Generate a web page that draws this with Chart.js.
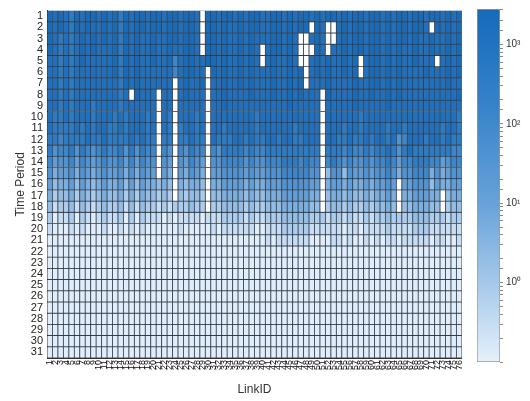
<!DOCTYPE html>
<html>
<head>
<meta charset="utf-8">
<script src="https://cdn.jsdelivr.net/npm/chart.js@4.4.1/dist/chart.umd.min.js"></script>
<style>
  html, body { margin: 0; padding: 0; background: #ffffff; }
  #wrap { position: relative; width: 530px; height: 401px; overflow: hidden; }
  #heat { position: absolute; left: 0; top: 0; }
  #cbar { position: absolute; left: 470px; top: 0; }
</style>
</head>
<body>
<div id="wrap">
  <canvas id="heat" width="472" height="401"></canvas>
  <canvas id="cbar" width="60" height="401"></canvas>
</div>
<script>
// Link identifiers (columns) and time periods (rows)
const linkIds = Array.from({ length: 76 }, (_, i) => String(i + 1));
const periods = Array.from({ length: 31 }, (_, i) => i + 1);

// Flow level codes: each character is one link in one period ('.' = no data)
const levelCodes  = "0123456789a";
const levelValues = [0.12, 0.3, 0.8, 2, 5, 15, 40, 120, 400, 1200, 2500];

const rowCodes = [
  "a9a98a9aa9 a9a8a9aa9a a9aa9aa9.a a9aa9a9aa9 9aa9a9aa9a 9aa9a9aa9a a9a9aa9aa9 aa9a9a",
  "a9a98a9a99 a9a8a9aa9a a9aa9aa9.a a9a99a9aa9 9aa9a9aa.a 9..9a9aa9a a9a9aa9aa9 .a9a9a",
  "a98989a9a9 a9a8a9a99a 99aa9aa9.a a9a99a9a99 9aa9a9..9a 9..9a9aa9a a9a9aa9a99 a99a9a",
  "a98989a9a9 99a8a9a99a 99a99aa9.a a9a99a9a9. 9aa9a9...a 9.99a9aa9a a9a9a99a99 a99a9a",
  "998989a999 99a8a9a99a 99a79aa99a a9a99a9a9. 9a99a9..9a 9a99a9a.9a a9a9a99a99 9.9a9a",
  "9989899999 99a8a9a999 99979aa99. a9a99a9a99 9a99a9a.9a 9a99a9a.9a a9a9a9999a 999a9a",
  "9989899999 9998a9a999 999.9a99a. 99a99a9a99 9a99a9a.99 9a9999a99a a9a9a99999 999a99",
  "9989899999 99989.a999 .99.9a999. 99a9999a99 9a99a9a999 .a9999a99a 99a9a99999 99999a",
  "9989899989 9998999999 .99.99999. 99a9999999 9999a99999 .99999a999 99a9999999 999999",
  "9889899989 9989899989 .98.99989. 9999999989 9999999999 .999999899 9999999999 999998",
  "9888898989 9889899989 .98.89989. 9989999989 9999989999 .999899899 9989989999 998998",
  "8878888988 9888898988 .88.88988. 9888998988 9989988999 .998898898 9989679998 998988",
  "8677868767 8778686877 .76.76877. 7688887877 8888888888 .888787787 8898689888 888877",
  "7566757656 7667575766 .65.65765. 6677776766 7778887877 .787676676 7787577888 775677",
  "6455646545 6556464655 .54.54654. 5566665655 6667777766 .366365565 6676466777 464566",
  "5344535434 5445353544 343.43443. 4455554544 5556666655 .455454454 5565.55666 354455",
  "4233424323 4334242433 232.32332. 3344443433 4445555544 .344343343 4454.44555 44.344",
  "3122313212 3223131322 121222322. 2233332322 3334444433 .233232232 3343.33444 33.233",
  "2011202101 2112020211 1010111101 1122221211 2223333322 2122121121 2232222333 222122",
  "1000101000 1001010100 0000100000 1011111100 1112222211 1111011011 1121111222 111111",
  "0000000000 0000000000 0000000000 0000000000 1011111100 0011010010 1011011111 011001",
  "0000000000 0000000000 0000000000 0000000000 0000000000 0000000000 0000000000 000000",
  "0000000000 0000000000 0000000000 0000000000 0000000000 0000000000 0000000000 000000",
  "0000000000 0000000000 0000000000 0000000000 0000000000 0000000000 0000000000 000000",
  "0000000000 0000000000 0000000000 0000000000 0000000000 0000000000 0000000000 000000",
  "0000000000 0000000000 0000000000 0000000000 0000000000 0000000000 0000000000 000000",
  "0000000000 0000000000 0000000000 0000000000 0000000000 0000000000 0000000000 000000",
  "0000000000 0000000000 0000000000 0000000000 0000000000 0000000000 0000000000 000000",
  "0000000000 0000000000 0000000000 0000000000 0000000000 0000000000 0000000000 000000",
  "0000000000 0000000000 0000000000 0000000000 0000000000 0000000000 0000000000 000000",
  "0000000000 0000000000 0000000000 0000000000 0000000000 0000000000 0000000000 000000"
];

// Colour bar range and tick labels
const cMin = 0.1, cMax = 2800;
const cbarTicks = [1, 10, 100, 1000];
const cbarLabels = ["10\u2070", "10\u00B9", "10\u00B2", "10\u00B3"];

const periodValues = rowCodes.map(s =>
  s.replace(/ /g, "").split("").map(ch => ch === "." ? null : levelValues[levelCodes.indexOf(ch)])
);

// Colour map (position along log range -> rgb)
const cmapStops = [
  [0.00, [229, 240, 251]],
  [0.20, [172, 205, 236]],
  [0.45, [104, 162, 218]],
  [0.75, [50, 128, 200]],
  [1.00, [22, 106, 186]]
];
function logPos(v) {
  const t = (Math.log10(v) - Math.log10(cMin)) / (Math.log10(cMax) - Math.log10(cMin));
  return Math.min(1, Math.max(0, t));
}
function cmap(t) {
  for (let i = 1; i < cmapStops.length; i++) {
    const [t1, c1] = cmapStops[i];
    const [t0, c0] = cmapStops[i - 1];
    if (t <= t1) {
      const f = (t - t0) / (t1 - t0);
      const c = c0.map((a, k) => Math.round(a + (c1[k] - a) * f));
      return `rgb(${c[0]},${c[1]},${c[2]})`;
    }
  }
  const c = cmapStops[cmapStops.length - 1][1];
  return `rgb(${c[0]},${c[1]},${c[2]})`;
}
const colorFor = v => v == null ? "#ffffff" : cmap(logPos(v));

const narrow = "'Liberation Sans Narrow', 'Liberation Sans', Arial, sans-serif";
const sans = "'Liberation Sans', Arial, sans-serif";

// Heat map: one floating bar per cell, one dataset per period
const datasets = periods.map((p, r) => {
  const vals = periodValues[r];
  return {
    label: "Period " + p,
    data: linkIds.map((id, c) => ({ x: id, y: [p - 0.5, p + 0.5], v: vals[c] })),
    backgroundColor: vals.map(colorFor),
    borderColor: "rgba(35,45,58,0.85)",
    borderWidth: 0.8,
    borderSkipped: false,
    grouped: false,
    barPercentage: 1,
    categoryPercentage: 1
  };
});

new Chart(document.getElementById("heat"), {
  type: "bar",
  data: { labels: linkIds, datasets },
  options: {
    responsive: false,
    animation: false,
    events: [],
    layout: { padding: { top: 6, right: 7, left: 0, bottom: 0 } },
    plugins: { legend: { display: false }, tooltip: { enabled: false } },
    scales: {
      x: {
        type: "category",
        offset: true,
        grid: { display: false, drawTicks: false },
        border: { display: true, color: "#333" },
        ticks: {
          autoSkip: false, minRotation: 90, maxRotation: 90, padding: 2,
          font: { family: narrow, size: 9 }, color: "#111"
        },
        title: {
          display: true, text: "LinkID", color: "#333",
          font: { family: sans, size: 12 }, padding: { top: 2, bottom: 4 }
        },
        afterFit: s => { s.height = 43; }
      },
      y: {
        type: "linear",
        min: 0.5, max: 31.5, reverse: true,
        afterBuildTicks: s => { s.ticks = periods.map(p => ({ value: p })); },
        grid: { display: false, drawTicks: false },
        border: { display: true, color: "#333" },
        ticks: {
          autoSkip: false, padding: 4,
          font: { family: narrow, size: 11 }, color: "#222"
        },
        title: {
          display: true, text: "Time Period", color: "#333",
          font: { family: sans, size: 12 }, padding: { top: 13, bottom: 0 }
        },
        afterFit: s => { s.width = 47; }
      }
    }
  }
});

// Colour bar on a logarithmic axis
new Chart(document.getElementById("cbar"), {
  type: "bar",
  data: {
    labels: [""],
    datasets: [{
      data: [[cMin, cMax]],
      backgroundColor: ctx => {
        const area = ctx.chart.chartArea;
        if (!area) return null;
        const g = ctx.chart.ctx.createLinearGradient(0, area.bottom, 0, area.top);
        cmapStops.forEach(([t, c]) => g.addColorStop(t, `rgb(${c[0]},${c[1]},${c[2]})`));
        return g;
      },
      borderColor: "#9a9a9a",
      borderWidth: 1,
      borderSkipped: false,
      barPercentage: 1,
      categoryPercentage: 1
    }]
  },
  options: {
    responsive: false,
    animation: false,
    events: [],
    layout: { padding: { left: 7, top: 7, bottom: 39, right: 0 } },
    plugins: { legend: { display: false }, tooltip: { enabled: false } },
    scales: {
      x: { display: false },
      y: {
        type: "logarithmic",
        position: "right",
        min: cMin, max: cMax,
        grid: { drawOnChartArea: false, tickLength: 3, color: "#8a8a8a" },
        border: { display: false },
        ticks: {
          autoSkip: false, padding: 3,
          font: { family: sans, size: 10 }, color: "#333",
          callback: v => {
            const i = cbarTicks.indexOf(Number(v));
            return i >= 0 ? cbarLabels[i] : "";
          }
        },
        afterFit: s => { s.width = 30; }
      }
    }
  }
});
</script>
</body>
</html>
